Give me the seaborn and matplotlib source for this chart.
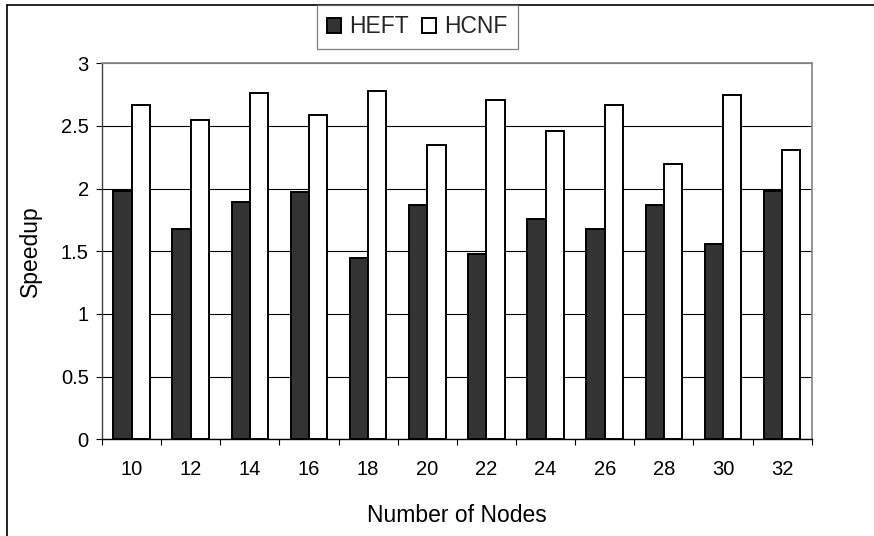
import matplotlib
matplotlib.use("Agg")
import matplotlib.pyplot as plt
from matplotlib.lines import Line2D
from matplotlib.ticker import FixedLocator, FuncFormatter
import seaborn as sns
import pandas as pd

# ---- data ----
nodes = ["10", "12", "14", "16", "18", "20", "22", "24", "26", "28", "30", "32"]
heft = [1.98, 1.68, 1.89, 1.97, 1.45, 1.87, 1.48, 1.76, 1.68, 1.87, 1.56, 1.98]
hcnf = [2.67, 2.55, 2.76, 2.59, 2.78, 2.35, 2.71, 2.46, 2.67, 2.20, 2.75, 2.31]
series_names = ["HEFT", "HCNF"]
y_ticks = [0, 0.5, 1, 1.5, 2, 2.5, 3]

df = pd.DataFrame({
    "Number of Nodes": nodes * 2,
    "Speedup": heft + hcnf,
    "Series": [series_names[0]] * len(nodes) + [series_names[1]] * len(nodes),
})

sns.set_theme(style="white")
plt.rcParams["font.family"] = ["Liberation Sans", "DejaVu Sans"]

W, H = 874, 536
fig = plt.figure(figsize=(W / 100, H / 100), dpi=100)
left, right, top, bottom = 102, 811.7, 63.3, 439.3
ax = fig.add_axes([left / W, 1 - bottom / H, (right - left) / W, (bottom - top) / H])

sns.barplot(data=df, x="Number of Nodes", y="Speedup", hue="Series",
            hue_order=series_names, order=nodes,
            palette={"HEFT": "#333333", "HCNF": "#ffffff"},
            edgecolor="black", linewidth=1.4, width=0.62, gap=0,
            saturation=1, ax=ax)

ax.set_ylim(0, 3)
ax.set_xlim(-0.5, len(nodes) - 0.5)
ax.yaxis.set_major_locator(FixedLocator(y_ticks))
ax.yaxis.set_major_formatter(FuncFormatter(lambda v, p: f"{v:g}"))
ax.yaxis.grid(True, color="black", linewidth=0.8)
ax.set_axisbelow(True)

# spines
for s in ["top", "right"]:
    ax.spines[s].set_color("#8c8c8c")
    ax.spines[s].set_linewidth(1.3)
ax.spines["left"].set_color("#404040")
ax.spines["left"].set_linewidth(1.0)
ax.spines["bottom"].set_color("black")
ax.spines["bottom"].set_linewidth(1.0)

# ticks
ax.tick_params(axis="y", which="major", direction="out", length=4.5, width=0.8,
               color="black", left=True, labelsize=14.5, pad=5, labelcolor="black")
ax.tick_params(axis="x", which="major", length=0, labelsize=14.5, pad=15, labelcolor="black")
ax.set_xticks([i - 0.5 for i in range(len(nodes) + 1)], minor=True)
ax.tick_params(axis="x", which="minor", direction="out", length=4, width=0.8,
               color="black", bottom=True)

ax.set_xlabel("Number of Nodes", fontsize=16.5, labelpad=18, color="black")
ax.set_ylabel("Speedup", fontsize=16.5, labelpad=14, color="black")

# legend
handles, labels = ax.get_legend_handles_labels()
ax.get_legend().remove()
leg = fig.legend(handles, labels, loc="upper left",
                 bbox_to_anchor=(317 / W, 1 - 5 / H), borderaxespad=0,
                 ncol=2, fontsize=16.5, frameon=True, fancybox=False,
                 edgecolor="#606060", handlelength=0.6, handleheight=0.6,
                 handletextpad=0.35, columnspacing=0.6, borderpad=0.45)
leg.get_frame().set_linewidth(0.9)

# outer frame (top and left edges visible)
fig.add_artist(Line2D([7 / W, 1.0], [1 - 5 / H, 1 - 5 / H], color="black",
                      linewidth=1.2, transform=fig.transFigure))
fig.add_artist(Line2D([7 / W, 7 / W], [1 - 5 / H, 0.0], color="black",
                      linewidth=1.2, transform=fig.transFigure))

fig.savefig("out.png", dpi=100)
